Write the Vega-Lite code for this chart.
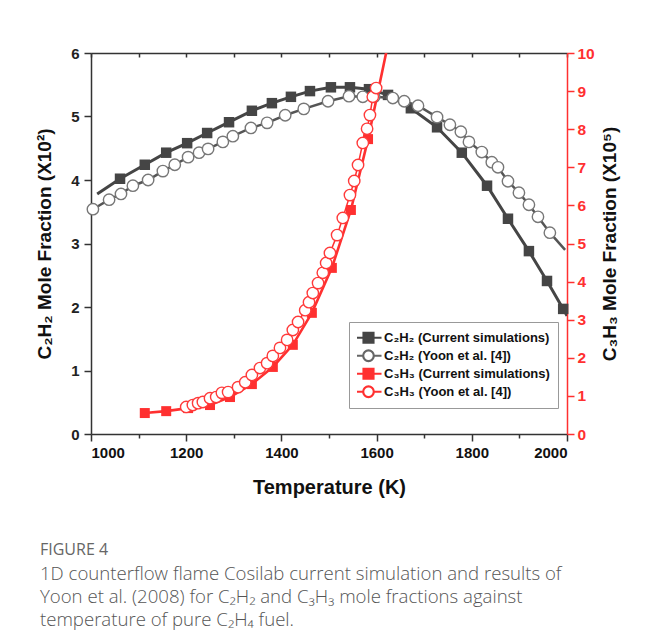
{
  "$schema": "https://vega.github.io/schema/vega-lite/v6.json",
  "width": 476,
  "height": 381,
  "autosize": {"type": "none"},
  "padding": {"left": 91, "top": 53, "right": 79, "bottom": 205},
  "background": "white",
  "config": {"view": {"stroke": null}, "font": "Liberation Sans"},
  "title": {
    "text": "FIGURE 4",
    "subtitle": [
      "1D counterflow flame Cosilab current simulation and results of",
      "Yoon et al. (2008) for C₂H₂ and C₃H₃ mole fractions against",
      "temperature of pure C₂H₄ fuel."
    ],
    "orient": "bottom",
    "anchor": "start",
    "frame": "group",
    "dx": -51,
    "offset": 45,
    "font": "Open Sans",
    "fontSize": 16,
    "fontWeight": 500,
    "color": "#666666",
    "subtitleFont": "Open Sans",
    "subtitleFontSize": 18.6,
    "subtitleFontWeight": 300,
    "subtitleColor": "#555555",
    "subtitleLineHeight": 23,
    "subtitlePadding": 7
  },
  "datasets": {
    "c2h2_sim": [
      {"T": 1013, "y": 3.78, "pt": 0},
      {"T": 1061, "y": 4.02, "pt": 1},
      {"T": 1113, "y": 4.24, "pt": 1},
      {"T": 1158, "y": 4.43, "pt": 1},
      {"T": 1202, "y": 4.58, "pt": 1},
      {"T": 1244, "y": 4.74, "pt": 1},
      {"T": 1290, "y": 4.91, "pt": 1},
      {"T": 1338, "y": 5.09, "pt": 1},
      {"T": 1380, "y": 5.21, "pt": 1},
      {"T": 1420, "y": 5.31, "pt": 1},
      {"T": 1460, "y": 5.40, "pt": 1},
      {"T": 1504, "y": 5.46, "pt": 1},
      {"T": 1544, "y": 5.46, "pt": 1},
      {"T": 1584, "y": 5.43, "pt": 1},
      {"T": 1624, "y": 5.34, "pt": 1},
      {"T": 1672, "y": 5.13, "pt": 1},
      {"T": 1727, "y": 4.83, "pt": 1},
      {"T": 1779, "y": 4.43, "pt": 1},
      {"T": 1832, "y": 3.91, "pt": 1},
      {"T": 1876, "y": 3.39, "pt": 1},
      {"T": 1920, "y": 2.88, "pt": 1},
      {"T": 1958, "y": 2.41, "pt": 1},
      {"T": 1992, "y": 1.97, "pt": 1},
      {"T": 2000, "y": 1.86, "pt": 0}
    ],
    "c2h2_yoon": [
      {"T": 1004, "y": 3.54, "pt": 1},
      {"T": 1038, "y": 3.69, "pt": 1},
      {"T": 1063, "y": 3.78, "pt": 1},
      {"T": 1088, "y": 3.91, "pt": 1},
      {"T": 1120, "y": 4.00, "pt": 1},
      {"T": 1151, "y": 4.14, "pt": 1},
      {"T": 1176, "y": 4.24, "pt": 1},
      {"T": 1204, "y": 4.36, "pt": 1},
      {"T": 1227, "y": 4.43, "pt": 1},
      {"T": 1246, "y": 4.49, "pt": 1},
      {"T": 1277, "y": 4.60, "pt": 1},
      {"T": 1298, "y": 4.69, "pt": 1},
      {"T": 1336, "y": 4.82, "pt": 1},
      {"T": 1370, "y": 4.90, "pt": 1},
      {"T": 1408, "y": 5.02, "pt": 1},
      {"T": 1447, "y": 5.12, "pt": 1},
      {"T": 1498, "y": 5.24, "pt": 1},
      {"T": 1542, "y": 5.32, "pt": 1},
      {"T": 1571, "y": 5.31, "pt": 1},
      {"T": 1595, "y": 5.31, "pt": 1},
      {"T": 1634, "y": 5.29, "pt": 1},
      {"T": 1658, "y": 5.24, "pt": 1},
      {"T": 1687, "y": 5.17, "pt": 1},
      {"T": 1727, "y": 4.99, "pt": 1},
      {"T": 1754, "y": 4.87, "pt": 1},
      {"T": 1777, "y": 4.76, "pt": 1},
      {"T": 1794, "y": 4.60, "pt": 1},
      {"T": 1821, "y": 4.44, "pt": 1},
      {"T": 1842, "y": 4.28, "pt": 1},
      {"T": 1855, "y": 4.20, "pt": 1},
      {"T": 1876, "y": 3.98, "pt": 1},
      {"T": 1899, "y": 3.80, "pt": 1},
      {"T": 1920, "y": 3.61, "pt": 1},
      {"T": 1939, "y": 3.42, "pt": 1},
      {"T": 1964, "y": 3.17, "pt": 1},
      {"T": 1996, "y": 2.90, "pt": 0}
    ],
    "c3h3_sim": [
      {"T": 1113, "y": 0.55, "pt": 1},
      {"T": 1158, "y": 0.60, "pt": 1},
      {"T": 1204, "y": 0.68, "pt": 1},
      {"T": 1250, "y": 0.76, "pt": 1},
      {"T": 1292, "y": 0.97, "pt": 1},
      {"T": 1338, "y": 1.31, "pt": 1},
      {"T": 1382, "y": 1.76, "pt": 1},
      {"T": 1424, "y": 2.34, "pt": 1},
      {"T": 1464, "y": 3.18, "pt": 1},
      {"T": 1506, "y": 4.36, "pt": 1},
      {"T": 1546, "y": 5.88, "pt": 1},
      {"T": 1582, "y": 7.74, "pt": 1},
      {"T": 1625, "y": 10.3, "pt": 0}
    ],
    "c3h3_yoon": [
      {"T": 1200, "y": 0.71, "pt": 1},
      {"T": 1214, "y": 0.76, "pt": 1},
      {"T": 1225, "y": 0.81, "pt": 1},
      {"T": 1235, "y": 0.84, "pt": 1},
      {"T": 1250, "y": 0.94, "pt": 1},
      {"T": 1263, "y": 0.97, "pt": 1},
      {"T": 1275, "y": 1.08, "pt": 1},
      {"T": 1288, "y": 1.10, "pt": 1},
      {"T": 1309, "y": 1.23, "pt": 1},
      {"T": 1324, "y": 1.36, "pt": 1},
      {"T": 1338, "y": 1.55, "pt": 1},
      {"T": 1355, "y": 1.73, "pt": 1},
      {"T": 1370, "y": 1.86, "pt": 1},
      {"T": 1382, "y": 2.05, "pt": 1},
      {"T": 1397, "y": 2.26, "pt": 1},
      {"T": 1412, "y": 2.47, "pt": 1},
      {"T": 1424, "y": 2.73, "pt": 1},
      {"T": 1435, "y": 2.94, "pt": 1},
      {"T": 1450, "y": 3.25, "pt": 1},
      {"T": 1458, "y": 3.46, "pt": 1},
      {"T": 1466, "y": 3.70, "pt": 1},
      {"T": 1477, "y": 3.96, "pt": 1},
      {"T": 1487, "y": 4.23, "pt": 1},
      {"T": 1494, "y": 4.49, "pt": 1},
      {"T": 1502, "y": 4.75, "pt": 1},
      {"T": 1517, "y": 5.22, "pt": 1},
      {"T": 1529, "y": 5.67, "pt": 1},
      {"T": 1544, "y": 6.27, "pt": 1},
      {"T": 1553, "y": 6.64, "pt": 1},
      {"T": 1561, "y": 7.06, "pt": 1},
      {"T": 1571, "y": 7.64, "pt": 1},
      {"T": 1580, "y": 8.01, "pt": 1},
      {"T": 1586, "y": 8.37, "pt": 1},
      {"T": 1592, "y": 8.85, "pt": 1},
      {"T": 1599, "y": 9.08, "pt": 1}
    ],
    "legend_series": [
      {"series": "C₂H₂ (Current simulations)"}
    ]
  },
  "layer": [
    {
      "encoding": {
        "x": {
          "field": "T", "type": "quantitative",
          "scale": {"domain": [1000, 2000], "nice": false, "zero": false},
          "axis": {
            "orient": "bottom",
            "values": [1000, 1100, 1200, 1300, 1400, 1500, 1600, 1700, 1800, 1900, 2000],
            "format": "d",
            "labelExpr": "datum.value % 200 === 0 ? datum.label : ''",
            "tickSize": {"condition": {"test": "datum.value % 200 === 0", "value": 7}, "value": 4},
            "grid": false,
            "domainColor": "#333333", "domainWidth": 1.5,
            "tickColor": "#333333", "tickWidth": 1.5,
            "labelFont": "Liberation Sans", "labelFontWeight": "bold", "labelFontSize": 15, "labelColor": "#111111",
            "labelPadding": 4,
            "title": "Temperature (K)",
            "titleFont": "Liberation Sans", "titleFontSize": 20, "titleFontWeight": "bold", "titleColor": "#111111",
            "titlePadding": 17
          }
        },
        "y": {
          "field": "y", "type": "quantitative",
          "scale": {"domain": [0, 6], "nice": false, "zero": false},
          "axis": {
            "orient": "left",
            "values": [0, 0.5, 1, 1.5, 2, 2.5, 3, 3.5, 4, 4.5, 5, 5.5, 6],
            "format": "d",
            "labelExpr": "datum.value % 1 === 0 ? datum.label : ''",
            "tickSize": {"condition": {"test": "datum.value % 1 === 0", "value": 7}, "value": 4},
            "grid": false,
            "domainColor": "#333333", "domainWidth": 1.5,
            "tickColor": "#333333", "tickWidth": 1.5,
            "labelFont": "Liberation Sans", "labelFontWeight": "bold", "labelFontSize": 15, "labelColor": "#222222",
            "labelPadding": 5,
            "title": "C₂H₂ Mole Fraction (X10²)",
            "titleFont": "Liberation Sans", "titleFontSize": 19, "titleFontWeight": "bold", "titleColor": "#111111",
            "titlePadding": 16
          }
        }
      },
      "layer": [
        {
          "data": {"name": "c2h2_sim"},
          "mark": {"type": "line", "color": "#454545", "strokeWidth": 3, "clip": true}
        },
        {
          "data": {"name": "c2h2_sim"},
          "transform": [{"filter": "datum.pt == 1"}],
          "mark": {"type": "point", "shape": "square", "filled": true, "color": "#454545", "size": 110, "opacity": 1}
        },
        {
          "data": {"name": "c2h2_yoon"},
          "mark": {"type": "line", "color": "#555555", "strokeWidth": 2.5, "clip": true}
        },
        {
          "data": {"name": "c2h2_yoon"},
          "transform": [{"filter": "datum.pt == 1"}],
          "mark": {"type": "point", "shape": "circle", "filled": false, "fill": "white", "fillOpacity": 1, "stroke": "#777777", "strokeWidth": 1.4, "size": 130, "opacity": 1}
        }
      ]
    },
    {
      "encoding": {
        "x": {
          "field": "T", "type": "quantitative",
          "scale": {"domain": [1000, 2000], "nice": false, "zero": false},
          "axis": null
        },
        "y": {
          "field": "y", "type": "quantitative",
          "scale": {"domain": [0, 10], "nice": false, "zero": false},
          "axis": {
            "orient": "right",
            "values": [0, 0.5, 1, 1.5, 2, 2.5, 3, 3.5, 4, 4.5, 5, 5.5, 6, 6.5, 7, 7.5, 8, 8.5, 9, 9.5, 10],
            "format": "d",
            "labelExpr": "datum.value % 1 === 0 ? datum.label : ''",
            "tickSize": {"condition": {"test": "datum.value % 1 === 0", "value": 7}, "value": 4},
            "grid": false,
            "domainColor": "#ff3030", "domainWidth": 1.5,
            "tickColor": "#ff3030", "tickWidth": 1.5,
            "labelFont": "Liberation Sans", "labelFontWeight": "bold", "labelFontSize": 15.5, "labelColor": "#ff3030",
            "labelPadding": 3,
            "title": "C₃H₃ Mole Fraction (X10⁵)",
            "titleAngle": 270,
            "titleFont": "Liberation Sans", "titleFontSize": 19, "titleFontWeight": "bold", "titleColor": "#111111",
            "titlePadding": 25
          }
        }
      },
      "layer": [
        {
          "data": {"name": "c3h3_sim"},
          "mark": {"type": "line", "color": "#ff3030", "strokeWidth": 2.6, "clip": true}
        },
        {
          "data": {"name": "c3h3_sim"},
          "transform": [{"filter": "datum.pt == 1"}],
          "mark": {"type": "point", "shape": "square", "filled": true, "color": "#ff3030", "size": 100, "opacity": 1}
        },
        {
          "data": {"name": "c3h3_yoon"},
          "mark": {"type": "line", "color": "#ff3030", "strokeWidth": 1.5, "clip": true}
        },
        {
          "data": {"name": "c3h3_yoon"},
          "transform": [{"filter": "datum.pt == 1"}],
          "mark": {"type": "point", "shape": "circle", "filled": false, "fill": "white", "fillOpacity": 1, "stroke": "#ff3a3a", "strokeWidth": 1.4, "size": 130, "opacity": 1}
        }
      ]
    },
    {
      "data": {"name": "legend_series"},
      "transform": [{"filter": "false"}],
      "mark": {"type": "point", "strokeWidth": 2.2, "opacity": 1},
      "encoding": {
        "x": {
          "field": "T", "type": "quantitative",
          "scale": {"domain": [1000, 2000], "nice": false, "zero": false},
          "axis": {
            "orient": "top",
            "values": [1000, 1100, 1200, 1300, 1400, 1500, 1600, 1700, 1800, 1900, 2000],
            "labels": false,
            "tickSize": -4,
            "grid": false,
            "domainColor": "#333333", "domainWidth": 1.5,
            "tickColor": "#333333", "tickWidth": 1.5,
            "title": null
          }
        },
        "fill": {
          "field": "series", "type": "nominal",
          "scale": {
            "domain": ["C₂H₂ (Current simulations)", "C₂H₂ (Yoon et al. [4])", "C₃H₃ (Current simulations)", "C₃H₃ (Yoon et al. [4])"],
            "range": ["#454545", "white", "#ff3030", "white"]
          },
          "legend": {
            "orient": "none", "legendX": 258, "legendY": 269,
            "title": null,
            "strokeColor": "#999999", "fillColor": "white", "padding": 8,
            "symbolSize": 196, "symbolStrokeWidth": 2.2, "symbolOffset": 3,
            "labelFont": "Liberation Sans", "labelFontSize": 13, "labelFontWeight": "bold", "labelColor": "#111111",
            "labelLimit": 400, "rowPadding": 2, "labelOffset": 7, "clipHeight": 15.5
          }
        },
        "stroke": {
          "field": "series", "type": "nominal",
          "scale": {
            "domain": ["C₂H₂ (Current simulations)", "C₂H₂ (Yoon et al. [4])", "C₃H₃ (Current simulations)", "C₃H₃ (Yoon et al. [4])"],
            "range": ["#454545", "#666666", "#ff3030", "#ff3030"]
          },
          "legend": {
            "orient": "none", "legendX": 258, "legendY": 269,
            "title": null,
            "strokeColor": "#999999", "fillColor": "white", "padding": 8,
            "symbolSize": 196, "symbolStrokeWidth": 2.2, "symbolOffset": 3,
            "labelFont": "Liberation Sans", "labelFontSize": 13, "labelFontWeight": "bold", "labelColor": "#111111",
            "labelLimit": 400, "rowPadding": 2, "labelOffset": 7, "clipHeight": 15.5
          }
        },
        "shape": {
          "field": "series", "type": "nominal",
          "scale": {
            "domain": ["C₂H₂ (Current simulations)", "C₂H₂ (Yoon et al. [4])", "C₃H₃ (Current simulations)", "C₃H₃ (Yoon et al. [4])"],
            "range": [
              "M-1.86,0H-0.71M0.71,0H1.86M-0.71,-0.71H0.71V0.71H-0.71Z",
              "M-1.86,0H-0.76M0.76,0H1.86M-0.76,0A0.76,0.76,0,1,0,0.76,0A0.76,0.76,0,1,0,-0.76,0Z",
              "M-1.86,0H-0.71M0.71,0H1.86M-0.71,-0.71H0.71V0.71H-0.71Z",
              "M-1.86,0H-0.76M0.76,0H1.86M-0.76,0A0.76,0.76,0,1,0,0.76,0A0.76,0.76,0,1,0,-0.76,0Z"
            ]
          },
          "legend": {
            "orient": "none", "legendX": 258, "legendY": 269,
            "title": null,
            "strokeColor": "#999999", "fillColor": "white", "padding": 8,
            "symbolSize": 196, "symbolStrokeWidth": 2.2, "symbolOffset": 3,
            "labelFont": "Liberation Sans", "labelFontSize": 13, "labelFontWeight": "bold", "labelColor": "#111111",
            "labelLimit": 400, "rowPadding": 2, "labelOffset": 7, "clipHeight": 15.5
          }
        }
      }
    }
  ],
  "resolve": {"scale": {"y": "independent"}, "axis": {"x": "independent"}}
}
